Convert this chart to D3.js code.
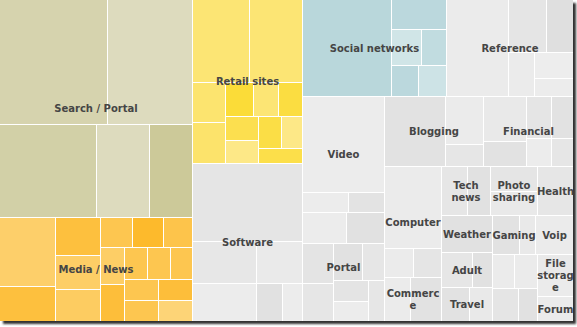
<!DOCTYPE html>
<html>
<head>
<meta charset="utf-8">
<script src="https://cdn.jsdelivr.net/npm/d3@7"></script>
<style>
  body { margin: 0; background: #fff; }
  svg { display: block; }
  .label { font-family: "DejaVu Sans", Verdana, sans-serif; font-weight: bold; font-size: 10px; fill: #454545; }
</style>
</head>
<body>
<div id="chart"></div>
<script>
// Top level categories, in layout order
const groupNames = ["Search / Portal", "Media / News", "Retail sites", "Software", "Social networks",
  "Reference", "Video", "Portal", "Blogging", "Financial", "Computer", "Commerce", "Tech news",
  "Photo sharing", "Health", "Weather", "Adult", "Travel", "Gaming", "Voip", "", "", "File storage", "Forum"];

// Size of every site (leaf) inside each category
const leafSizes = [
  [13500, 10625, 8924, 4876, 3956],
  [3800, 1950, 1710, 1530, 1440, 957, 957, 870, 900, 880, 720, 720, 720, 740, 700, 740, 700],
  [4674, 4346, 1312, 1312, 980, 875, 840, 792, 759, 736, 672, 675],
  [8470, 2646, 2394, 1974, 962, 777],
  [8536, 1650, 1080, 900, 850, 850],
  [6014, 2014, 1431, 1144, 1014, 702],
  [7695, 900, 720],
  [1333, 1178, 1240, 1178, 1036, 814, 714, 680, 656],
  [4270, 1824, 836],
  [1890, 1050, 1050, 924, 700, 616],
  [4617, 841, 812],
  [1144, 1364],
  [1274, 1127],
  [1150, 1104],
  [1764],
  [1887],
  [1054, 680],
  [952, 782],
  [1040, 640],
  [1440],
  [780, 780],
  [850, 640],
  [800, 720],
  [880]
];

// Colour metric of every site (0 = light, 1 = dark)
const leafShades = [
  [0.5, 0.15, 0.65, 0.15, 0.95],
  [0.25, 0.75, 0.75, 0.3, 0.35, 0.55, 0.95, 0.6, 0.3, 0.8, 0.55, 0.55, 0.55, 0.55, 0.55, 0.8, 0.1],
  [0.3, 0.3, 0.35, 0.4, 0.95, 0.3, 0.85, 0.7, 0.1, 0.8, 0.1, 0.75],
  [0.5, 0.4, 0.1, 0.2, 0.75, 0.1],
  [0.9, 0.8, 0.05, 0.6, 0.8, 0.15],
  [0.15, 0.5, 0.85, 0.15, 0.05, 0.1],
  [0.1, 0.1, 0.6],
  [0.1, 0.75, 0.55, 0.45, 0.75, 0.45, 0.55, 0.1, 0.45],
  [0.65, 0.15, 0.45],
  [0.3, 0.65, 0.5, 0.65, 0.1, 0.45],
  [0.15, 0.15, 0.5],
  [0.15, 0.65],
  [0.45, 0.75],
  [0.5, 0.3],
  [0.45],
  [0.75],
  [0.45, 0.75],
  [0.65, 0.3],
  [0.65, 0.3],
  [0.15],
  [0.15, 0.15],
  [0.5, 0.75],
  [0.3, 0.15],
  [0.15]
];

// styles
const palettes = {
  olive: ["#e0dec5", "#cbc897"],
  orange: ["#fdd780", "#fdb828"],
  yellow: ["#fde990", "#fbdb33"],
  blue: ["#d1e6e8", "#b6d5da"],
  gray: ["#eeeeee", "#dcdcdc"]
};
const groupPalette = ["olive", "orange", "yellow", "gray", "blue"];

const width = 573, height = 321;

const svg = d3.select("#chart")
  .append("svg")
  .attr("width", 577)
  .attr("height", 327);

// drop shadow behind the map
const defs = svg.append("defs");
defs.append("filter")
  .attr("id", "shadow")
  .attr("x", "-5%").attr("y", "-5%").attr("width", "110%").attr("height", "110%")
  .append("feGaussianBlur")
  .attr("stdDeviation", 1.1);

svg.append("rect")
  .attr("x", 3).attr("y", 3)
  .attr("width", width).attr("height", height)
  .attr("fill", "#333")
  .attr("filter", "url(#shadow)");

svg.append("rect")
  .attr("width", width).attr("height", height)
  .attr("fill", "#fff");

// build the hierarchy
const root = d3.hierarchy({
  children: groupNames.map((name, i) => ({
    name: name,
    group: i,
    children: leafSizes[i].map((v, j) => ({ size: v, shade: leafShades[i][j], group: i }))
  }))
}).sum(d => d.children ? 0 : d.size);

d3.treemap()
  .size([width, height])
  .tile(d3.treemapSquarify.ratio(1))
  .paddingInner(1)
  .round(true)(root);

const color = d => {
  const p = palettes[groupPalette[d.data.group] || "gray"];
  return d3.interpolateRgb(p[0], p[1])(d.data.shade);
};

svg.append("g")
  .selectAll("rect")
  .data(root.leaves())
  .join("rect")
  .attr("x", d => d.x0)
  .attr("y", d => d.y0)
  .attr("width", d => Math.max(0, d.x1 - d.x0))
  .attr("height", d => Math.max(0, d.y1 - d.y0))
  .attr("fill", d => color(d));

// labels, wrapped to fit the category box
const measurer = svg.append("text").attr("class", "label").attr("x", -1000).attr("y", -1000);
const measure = s => { measurer.text(s); return measurer.node().getComputedTextLength(); };

function wrap(name, maxW) {
  const lines = [];
  let cur = "";
  name.split(" ").forEach(w => {
    const test = cur ? cur + " " + w : w;
    if (measure(test) <= maxW) { cur = test; return; }
    if (cur) lines.push(cur);
    if (measure(w) <= maxW) { cur = w; return; }
    // break the word by characters
    let s = "";
    for (const ch of w) {
      if (s && measure(s + ch) > maxW) { lines.push(s); s = ch; }
      else s += ch;
    }
    cur = s;
  });
  if (cur) lines.push(cur);
  return lines;
}

const labels = svg.append("g");
root.children.filter(d => d.data.name).forEach(d => {
  const cx = (d.x0 + d.x1) / 2, cy = (d.y0 + d.y1) / 2;
  const lines = wrap(d.data.name, d.x1 - d.x0 + 3);
  lines.forEach((line, i) => {
    labels.append("text")
      .attr("class", "label")
      .attr("x", cx)
      .attr("y", cy + (i - (lines.length - 1) / 2) * 12)
      .attr("dy", "0.35em")
      .attr("text-anchor", "middle")
      .text(line);
  });
});
measurer.remove();
</script>
</body>
</html>
